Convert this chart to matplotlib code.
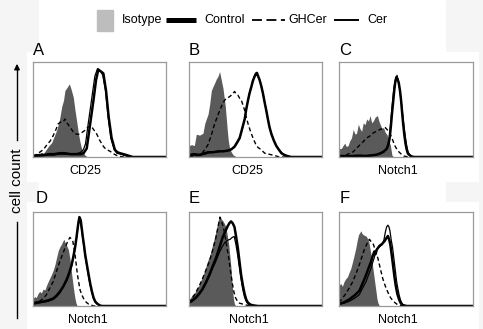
import matplotlib.pyplot as plt
from matplotlib.patches import Rectangle
from matplotlib.lines import Line2D

# curves: (x, y), both in % of the panel box
A_ISO = [(0,1),(2,3),(4,2),(6,5),(8,4),(10,8),(12,12),(14,15),(16,22),(18,29),(20,40),(21.6,53),(23,60),(24,70),(25.5,73),(27.3,77),(28.5,72),(30.3,63),(31.5,50),(32.8,38),(34,26),(35.3,16),(36.3,10),(37.3,6),(39,2),(41,0),(100,0)]
A_CTRL = [(0,1),(4,2),(8,2),(12,3),(16,3),(20,4),(24,4),(28,3),(32,3),(36,3),(38,4),(40.4,9),(42.9,34),(45.4,59),(47.4,81),(49.1,92),(50,91),(51.1,90),(52.9,88),(54.9,70),(56.9,42),(59.1,20),(61.6,7.5),(63.5,5),(65.4,4),(68,3),(70.4,2),(75,0),(100,0)]
A_GHC = [(0,1),(3,3),(5,5),(8,8),(10,12),(13,17),(15,22),(17,28),(19,35),(21,37),(22.8,37),(24,40),(25.5,36),(27,33),(29,29),(31,25),(33,24),(35,24),(37,26),(39,28),(41,31),(43,33),(44.5,31),(46,28),(48,24),(50,18),(53,11),(55,8),(58,6),(61,3),(64,1),(68,0),(100,0)]
A_CER = [(0,1),(5,1),(10,2),(15,2),(20,3),(25,3),(30,3),(34,4),(36,5),(38,8),(39.5,14),(41.5,35),(44,60),(46.5,85),(48.5,93),(50.5,91),(52.5,86),(54.5,70),(56.5,42),(58.5,20),(61,8),(63,4),(66,3),(70,1),(74,0),(100,0)]

B_ISO = [(0,12),(2,13),(4,12),(5.5,24),(8,23),(10.5,25),(11.8,35),(13,40),(14.3,45),(15.5,55),(16.8,70),(18,74),(19.3,78),(20.5,82),(21.8,85),(23,90),(24.3,81),(25.6,72),(26.5,62),(27.3,53),(28.1,40),(28.8,28),(29.5,18),(30.3,11),(31.5,6),(33,2.5),(35.6,0),(100,0)]
B_CTRL = [(0,2),(4,3),(8,2),(12,4),(14.3,5),(18,5),(22,6),(26,6),(30,7),(31.8,8),(34.3,11),(36,15),(38.1,20),(40,30),(41.9,40),(43,50),(44.4,60),(45.5,67),(46.9,74),(48,80),(49.4,85),(50.2,87),(51.1,88.5),(52,85),(53.1,81),(54.3,75),(55.6,67),(56.8,58),(58.1,49),(59.3,40),(60.6,31),(62,24),(63.9,17),(65.5,12),(67.4,8),(69.5,4),(71.9,2),(74,1),(76.9,0),(100,0)]
B_GHC = [(0,1),(5,1),(9.3,3),(12,8),(14.3,13),(17,24),(19.3,35),(22,45),(24.3,53),(26,58),(28,62),(30,63),(31.8,65),(33,67),(34.3,69),(35.5,66),(36.8,65),(38,62),(39.3,60),(40.5,55),(41.9,49),(43,42),(44.4,35),(46,28),(48.1,20),(50,14),(51.9,10),(54,8),(56.9,4),(60,3),(64.4,1.5),(68,0),(100,0)]
B_CER = [(0,2),(4,2),(8,3),(12,3),(16,5),(20,5),(24,6),(28,6),(31,8),(34,10),(36,14),(38,19),(40,29),(42,41),(44,57),(46,70),(48,80),(49.6,87),(50.6,89),(51.6,86),(53,82),(55.4,68),(58,50),(60.4,32),(63.5,18),(67,9),(70,4),(73,1.5),(76,0),(100,0)]

C_ISO = [(0,9),(1.8,9),(3,12),(4.3,14.5),(5.5,11),(6.8,12),(8,17),(9.3,20),(10.6,29),(12,24),(13.1,25),(14.4,34.5),(15.6,30),(16.9,27),(18.1,36),(19.4,34),(20.7,40),(22,38),(23.2,43.6),(24.4,36),(25.6,38),(27,42),(28.7,43.6),(29.7,38),(30.7,34.5),(32,30),(33.2,31),(34.5,26),(35.8,23.6),(37,17),(38.3,12.7),(39.5,2),(40.8,0),(100,0)]
C_CTRL = [(0,1),(5,1),(10,1),(15,1.5),(20,1),(23.2,1.5),(26,2),(28.2,2.5),(31,4),(33.2,5.5),(35.8,9),(37,14),(37.8,20),(38.7,32),(39.5,45),(40.4,58),(41.3,71),(42,79),(42.8,84),(43.7,82),(44.6,78),(45.5,70),(46.3,60),(47.1,47),(47.9,34.5),(48.8,23),(49.6,14.5),(50.5,8),(51.4,3.6),(53,1.5),(54.7,0.4),(56,0),(100,0)]
C_GHC = [(0,1),(3,1),(5.5,2),(8,4),(10.6,5.5),(13,9),(15.6,12.7),(18,16),(20.7,20),(23,22),(25.7,25.5),(28,27),(30.7,29),(32.5,30),(34.5,31),(35.8,29),(37,27),(38.3,24),(39.5,20),(40.8,15),(42,11),(43.3,8),(44.6,5.5),(46.5,3),(48.4,1),(52,0),(100,0)]
C_CER = [(0,1),(10,1),(20,1.5),(26,2),(30,3),(33,5),(35.5,8),(37.3,17),(38.5,35),(39.8,56),(41,73),(42.2,82),(43.3,86),(44.3,80),(45.3,71),(46.5,58),(47.6,44),(48.6,31),(49.6,20),(50.6,11),(51.6,5),(53,2),(55,0),(100,0)]

D_ISO = [(0,8),(1.2,10),(2.5,9),(3.7,13),(5,15.5),(6.3,14),(7.6,18),(8.9,17),(10.2,22),(11.4,26),(12.7,30),(13.9,33.5),(15.2,38),(16.5,44),(17.8,52),(19,59),(20.2,63),(21.5,66),(22.4,69),(23.3,71),(24,68),(24.8,66),(25.7,63),(26.6,60),(27.2,55),(27.8,50),(28.5,42),(29.1,33.5),(29.8,26),(30.4,19),(31,13),(31.6,8),(32.2,4),(32.9,1),(34,0),(100,0)]
D_CTRL = [(0,3),(3.8,4),(7.6,4.7),(11.4,6),(15.2,8),(17.7,11),(20.3,15.5),(22.8,21),(25.3,28),(27.2,35),(29.1,44),(30.4,53),(31.6,62),(32.7,73),(33.7,84),(34.3,90),(34.9,94.6),(35.4,93),(35.9,91),(36.7,82),(37.5,73),(38.4,64),(39.2,55),(40.5,44),(41.8,33.5),(43,24),(44.3,15.5),(45.5,9),(46.8,4.7),(48.7,2),(50.6,0.4),(52,0),(100,0)]
D_GHC = [(0,2),(2.5,3),(5,5),(7.6,8),(10.1,12),(12.6,19),(15.2,26),(17.7,37),(20.3,48),(22.8,57),(25.3,66),(26.5,70),(27.8,73),(28.9,71),(29.9,69),(30.8,62),(31.6,55),(32.5,44),(33.4,33.5),(34.4,25),(35.4,17),(36.7,12),(38,8),(40,4),(41.8,2),(43.7,1),(45.6,0),(100,0)]
D_CER = [(0,2),(3.8,3),(7.6,4),(11.4,5),(15.2,7),(17.7,10),(20.3,14),(22.8,20),(25.3,27),(27.2,34),(29.1,43),(30.4,52),(31.6,61),(32.7,72),(33.7,83),(34.5,91),(35.2,93),(35.9,88),(36.7,80),(37.5,71),(38.4,62),(39.2,53),(40.5,42),(41.8,31),(43,22),(44.3,14),(45.5,8),(46.8,4),(48.7,1.5),(51,0),(100,0)]

E_ISO = [(0,7),(1.3,9),(2.5,12),(3.8,13),(5.1,16),(6.3,20),(7.6,22),(8.9,27),(10.1,31),(11.4,36),(12.7,42),(14,48),(15.2,52),(16.5,58),(17.7,65),(19,72),(20.3,80),(21.5,88),(22.8,96),(24,93),(25.3,91),(26.5,88),(27.8,84),(28.8,75),(29.9,65),(30.8,52),(31.6,40),(32.3,26),(32.9,14.5),(33.5,7),(34.2,2),(35.4,0),(100,0)]
E_CTRL = [(0,3.6),(2.5,6),(5.1,9),(7.6,13),(10.1,18),(12.7,25),(15.2,33),(17.7,42),(20.3,51),(22.8,62),(25.3,73),(27.2,79),(29.1,85),(30.3,88),(31.6,90),(32.9,88),(34.2,84),(35.4,74),(36.7,62),(37.9,48),(39.2,33),(40.5,22),(41.8,13),(43,7),(44.3,3.6),(46.2,1.5),(48.1,0.7),(51.9,0),(100,0)]
E_GHC = [(0,3),(2.5,8),(5.1,14.5),(7.6,21),(10.1,29),(12.7,38),(15.2,47),(17.7,59),(20.3,73),(21.8,84),(23.3,94.5),(24.5,90),(25.8,84),(26.8,77),(27.8,69),(28.8,60),(29.9,51),(31.1,38),(32.4,25.5),(33.6,16),(34.9,9),(36.5,5),(38,3),(40.5,2),(43,1),(46,0),(100,0)]
E_CER = [(0,3),(2.5,5),(5.1,8),(7.6,12),(10.1,17),(12.7,24),(15.2,31),(17.7,40),(20.3,48),(22.8,57),(25.3,64),(27.2,68),(29.1,70),(31,71),(32.5,73),(34,74),(35.2,66),(36.5,55),(37.8,42),(39.1,29),(40.4,18),(41.7,10),(43,5),(44.5,2),(47,0.5),(50,0),(100,0)]

F_ISO = [(0,22),(1.3,24),(2.5,21),(3.8,26),(5,29),(6.3,31),(7.6,36),(8.8,40),(10.1,47),(11.3,54),(12.6,62),(13.6,70),(14.6,76),(15.5,78),(16.4,80),(17.2,77),(18.1,76),(19.1,75),(20.2,74.5),(21.2,72),(22.2,69),(23,62),(23.9,54.5),(24.8,45),(25.7,36),(26.7,25),(27.7,14.5),(28.3,8),(29,3.6),(30.2,0),(100,0)]
F_CTRL = [(0,2),(3.8,4),(7.6,7),(11.4,11),(15.1,16),(17.6,24),(20.2,33),(22,40),(23.9,47),(25.1,53),(26.4,58),(27.2,55),(28.2,60),(30.2,64),(32.1,66),(34,69),(35.3,72),(36.5,74.5),(37.4,71),(38.3,65.5),(39.3,55),(40.3,43.6),(41.3,32),(42.3,22),(43.5,13),(44.8,7),(46.1,3),(47.4,1),(50.4,0),(100,0)]
F_GHC = [(0,3.6),(2.5,8),(5,13),(7.6,19),(10.1,25.5),(12.6,34),(15.1,43.6),(17,52),(18.9,60),(20.8,66),(22.7,71),(24.2,68),(25.7,65.5),(27.3,58),(29,51),(30.8,40),(32.7,29),(34.6,21),(36.5,14.5),(38.4,9),(40.3,5.5),(42.2,3),(44.1,1),(47.9,0),(100,0)]
F_CER = [(0,2),(3.8,3),(7.6,5),(11.4,8),(15.1,12),(17.6,19),(20.2,26),(22,33),(23.9,40),(25.1,46),(26.4,52),(27.2,57),(28,60),(30.2,63),(32,65),(33.5,70),(34.5,78),(35.5,84),(36.5,86),(37.3,84),(38,80),(39,70),(40,62),(41,50),(42,38),(43,26),(44,18),(45,11),(46,6),(47,3),(48,1),(51,0),(100,0)]

letters = ['A', 'B', 'C', 'D', 'E', 'F']
markers = ['CD25', 'CD25', 'Notch1', 'Notch1', 'Notch1', 'Notch1']
legend_labels = ['Isotype', 'Control', 'GHCer', 'Cer']

curves = [
    (A_ISO, A_CTRL, A_GHC, A_CER),
    (B_ISO, B_CTRL, B_GHC, B_CER),
    (C_ISO, C_CTRL, C_GHC, C_CER),
    (D_ISO, D_CTRL, D_GHC, D_CER),
    (E_ISO, E_CTRL, E_GHC, E_CER),
    (F_ISO, F_CTRL, F_GHC, F_CER),
]

plt.rcParams['font.family'] = ['Liberation Sans', 'DejaVu Sans']
W, H = 483, 329

def fx(px):
    return px / W

def fy(py):
    return 1 - py / H

# panel boxes in pixels: left, top, right, bottom
boxes = [(33, 62, 166, 157), (189, 62, 322, 157), (339, 62, 473, 157),
         (33, 212, 166, 306), (189, 212, 322, 306), (339, 212, 473, 306)]
letter_pos = [(33, 55), (189, 55), (339, 55), (36, 203), (189, 203), (340, 203)]
marker_x = [0.39, 0.44, 0.44, 0.41, 0.45, 0.44]

fig = plt.figure(figsize=(W / 100, H / 100), dpi=100, facecolor='#f5f5f5')

# white paper behind the panels
fig.add_artist(Rectangle((fx(39), 0), fx(445 - 39), 1, transform=fig.transFigure,
                         color='white', zorder=-2))
for (l, t, r, b) in boxes:
    fig.add_artist(Rectangle((fx(l - 6), fy(b + 24)), fx(r - l + 11), (b - t + 34) / H,
                             transform=fig.transFigure, color='white', zorder=-2))

def xy(pts):
    return [p[0] for p in pts], [p[1] for p in pts]

for i, (l, t, r, b) in enumerate(boxes):
    ax = fig.add_axes([fx(l), fy(b), fx(r - l), (b - t) / H])
    iso, ctrl, ghc, cer = curves[i]
    x, y = xy(iso)
    ax.fill_between(x, 0, y, color='#5a5a5a', linewidth=0)
    x, y = xy(ghc)
    ax.plot(x, y, color='black', lw=1.0, dashes=(3, 2))
    x, y = xy(cer)
    ax.plot(x, y, color='black', lw=0.9)
    x, y = xy(ctrl)
    ax.plot(x, y, color='black', lw=1.8)
    ax.set_xlim(0, 100)
    ax.set_ylim(0, 100)
    ax.set_xticks([])
    ax.set_yticks([])
    for s in ax.spines.values():
        s.set_color('#9a9a9a')
        s.set_linewidth(0.9)
    ax.text(marker_x[i], -0.08, markers[i], transform=ax.transAxes,
            ha='center', va='top', fontsize=9)
    fig.text(fx(letter_pos[i][0]), fy(letter_pos[i][1]), letters[i],
             ha='left', va='baseline', fontsize=12)

# legend drawn by hand across the top
ly = fy(20)
fig.add_artist(Rectangle((fx(97), fy(31)), fx(16), 21 / H, transform=fig.transFigure,
                         color='#bdbdbd'))
fig.add_artist(Line2D([fx(166), fx(196)], [ly, ly], color='black', lw=3.6,
                      solid_capstyle='butt'))
fig.add_artist(Line2D([fx(252), fx(285)], [ly, ly], color='black', lw=1.3,
                      dashes=(5.5, 2.5)))
fig.add_artist(Line2D([fx(335), fx(358)], [ly, ly], color='black', lw=1.4))
for label, px in zip(legend_labels, [122, 204, 288, 367]):
    fig.text(fx(px), ly, label, ha='left', va='center', fontsize=9)

# y label with arrow
fig.add_artist(Line2D([fx(17), fx(17)], [fy(318), fy(222)], color='black', lw=1.0))
fig.add_artist(Line2D([fx(17), fx(17)], [fy(140), fy(68)], color='black', lw=1.0))
fig.text(fx(17), fy(181), 'cell count', rotation=90, ha='center', va='center', fontsize=11)
plt.annotate('', xy=(fx(17), fy(61)), xytext=(fx(17), fy(72)),
             xycoords='figure fraction', textcoords='figure fraction',
             arrowprops=dict(arrowstyle='-|>', color='black', lw=1.0, mutation_scale=8))

fig.savefig('out.png', dpi=100, facecolor=fig.get_facecolor())
